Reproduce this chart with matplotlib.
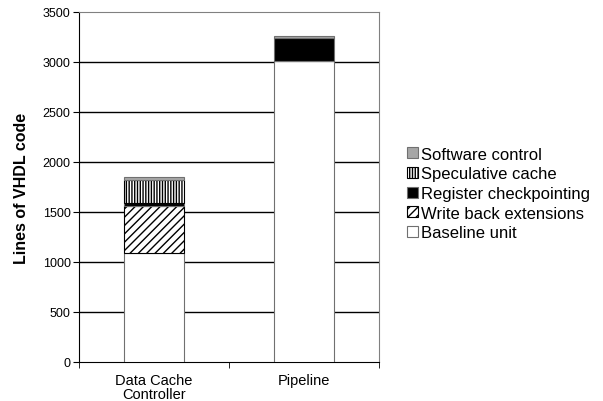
import numpy as np
import matplotlib.pyplot as plt

plt.rcParams['font.family'] = ['Liberation Sans', 'DejaVu Sans']
plt.rcParams['hatch.linewidth'] = 1.0

# data
categories = ['Data Cache\nController', 'Pipeline']
baseline = [1095, 3010]
write_back = [465, 0]
register_ckpt = [27, 235]
speculative = [235, 0]
software = [25, 15]

series = [
    ('Baseline unit', baseline, 'white', ''),
    ('Write back extensions', write_back, 'white', '////'),
    ('Register checkpointing', register_ckpt, 'black', ''),
    ('Speculative cache', speculative, 'white', '||||||'),
    ('Software control', software, '#a6a6a6', ''),
]

fig = plt.figure(figsize=(6.03, 4.02), dpi=100)
ax = fig.add_axes([79 / 603, 39 / 402, 300 / 603, 350 / 402])

x = np.arange(len(categories))
bottom = np.zeros(len(categories))
handles = []
for name, vals, color, hatch in series:
    vals = np.array(vals, dtype=float)
    b = ax.bar(x, vals, 0.4, bottom=bottom, color=color, hatch=hatch,
               edgecolor='black' if hatch else '#707070', linewidth=0.8,
               label=name, zorder=3)
    bottom += vals
    handles.append(b)

ax.set_xlim(-0.5, 1.5)
ax.set_ylim(0, 3500)
ax.set_yticks(np.arange(0, 3501, 500))
ax.tick_params(axis='y', labelsize=9, length=4, direction='out', pad=2)
ax.set_xticks(x)
ax.set_xticklabels(categories, fontsize=10.5, linespacing=0.95)
ax.tick_params(axis='x', length=0, pad=8)
ax.set_xticks([-0.5, 0.5, 1.5], minor=True)
ax.tick_params(axis='x', which='minor', length=4, direction='out')

for yv in np.arange(500, 3500, 500):
    ax.axhline(yv, color='black', linewidth=1.0, zorder=1)

ax.spines['left'].set_color('black')
ax.spines['bottom'].set_color('black')
ax.spines['top'].set_color('#808080')
ax.spines['right'].set_color('#808080')

ax.set_ylabel('Lines of VHDL code', fontsize=11.5, fontweight='bold', labelpad=10)

fig.legend(handles[::-1], [s[0] for s in series][::-1],
           loc='upper left', bbox_to_anchor=(400 / 603, 1 - 141 / 402),
           frameon=False, fontsize=12, handlelength=0.65, handleheight=0.65,
           handletextpad=0.2, labelspacing=0.28, borderaxespad=0)

fig.savefig('out.png', dpi=100)
